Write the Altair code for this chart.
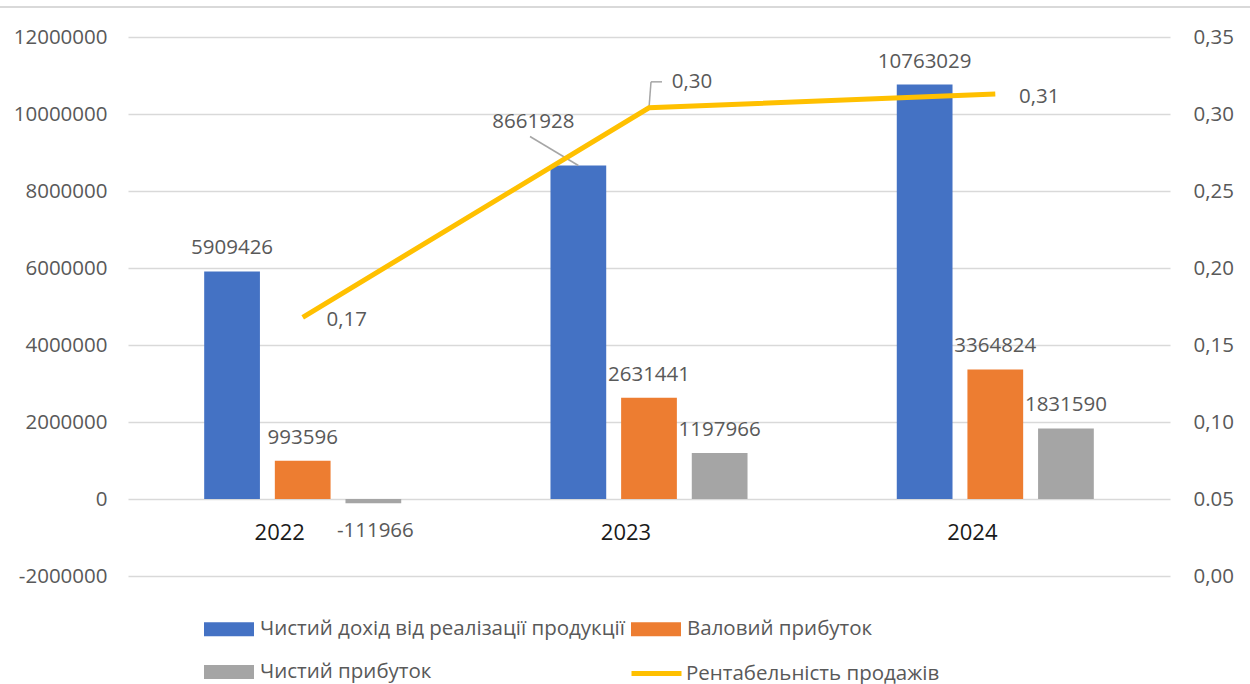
import altair as alt
import pandas as pd

# ---- data -------------------------------------------------------------
years = ["2022", "2023", "2024"]
series_names = [
    "Чистий дохід від реалізації продукції",
    "Валовий прибуток",
    "Чистий прибуток",
]
net_revenue = [5909426, 8661928, 10763029]
gross_profit = [993596, 2631441, 3364824]
net_profit = [-111966, 1197966, 1831590]

margin_name = "Рентабельність продажів"
sales_margin = [0.168, 0.304, 0.313]

left_ticks = [-2000000, 0, 2000000, 4000000, 6000000, 8000000, 10000000, 12000000]
right_ticks = [0.0, 0.05, 0.10, 0.15, 0.20, 0.25, 0.30, 0.35]

# ---- styling ------------------------------------------------------------
FONT = "Open Sans"
FS = 20.5
TEXT = "#595959"
GRID = "#D9D9D9"
LEADER = "#A6A6A6"
bar_colors = ["#4472C4", "#ED7D31", "#A5A5A5"]
line_color = "#FFC000"

rows = []
for i, yr in enumerate(years):
    for name, vals in zip(series_names, [net_revenue, gross_profit, net_profit]):
        rows.append({"year": yr, "series": name, "value": vals[i]})
bars_df = pd.DataFrame(rows)
ratio_df = pd.DataFrame({"year": years, "ratio": sales_margin, "metric": margin_name})

x_enc = alt.X(
    "year:N",
    sort=years,
    scale=alt.Scale(domain=years, paddingInner=0.431, paddingOuter=0.22),
    axis=None,
)
xoff = alt.XOffset(
    "series:N",
    sort=series_names,
    scale=alt.Scale(domain=series_names, paddingInner=0.211, paddingOuter=0),
)
y_scale = alt.Scale(domain=[-2000000, 12000000], nice=False, zero=False)
y_axis = alt.Axis(
    values=left_ticks,
    labelExpr="'' + datum.value",
    grid=True,
    gridColor=GRID,
    gridWidth=1.5,
    domain=False,
    ticks=False,
    labelPadding=21,
    labelFont=FONT,
    labelFontSize=FS,
    labelColor=TEXT,
    title=None,
)
# one shared y definition so every layer merges into the same left axis
y_enc = alt.Y("value:Q", scale=y_scale, axis=y_axis, stack=None)

base = alt.Chart(bars_df)

border = alt.Chart(pd.DataFrame({"k": [0]})).mark_rule(color=GRID, strokeWidth=2).encode(
    x=alt.value(-128), x2=alt.value(1122), y=alt.value(-30)
)

bars = base.mark_bar().encode(
    x=x_enc,
    xOffset=xoff,
    y=y_enc,
    y2=alt.datum(0),
    color=alt.Color(
        "series:N",
        sort=series_names,
        scale=alt.Scale(domain=series_names, range=bar_colors),
        legend=alt.Legend(
            title=None,
            orient="none",
            legendX=76,
            legendY=567,
            columns=2,
            direction="horizontal",
            symbolType="M-1,-0.28L1,-0.28L1,0.28L-1,0.28Z",
            symbolSize=2500,
            symbolStrokeWidth=0,
            labelFont=FONT,
            labelFontSize=FS,
            labelColor=TEXT,
            labelOffset=6,
            labelLimit=0,
            columnPadding=6,
            rowPadding=7,
        ),
    ),
)

labelled = base.transform_calculate(label="'' + datum.value")
moved = "datum.year == '2023' && datum.series == '" + series_names[0] + "'"
text_style = dict(font=FONT, fontSize=FS, color=TEXT, baseline="alphabetic")

pos_labels = labelled.transform_filter(
    "datum.value >= 0 && !(" + moved + ")"
).mark_text(dy=-17, **text_style).encode(x=x_enc, xOffset=xoff, y=y_enc, text="label:N")

neg_labels = labelled.transform_filter("datum.value < 0").mark_text(
    dx=2, dy=34, **text_style
).encode(x=x_enc, xOffset=xoff, y=y_enc, text="label:N")

moved_label = labelled.transform_filter(moved).mark_text(
    dx=-45, dy=-38, **text_style
).encode(x=x_enc, xOffset=xoff, y=y_enc, text="label:N")

moved_leader = base.transform_filter(moved).mark_rule(
    color=LEADER, strokeWidth=1.5, x2Offset=-119, y2Offset=-29
).encode(x=x_enc, xOffset=xoff, x2=alt.X2("year:N"), y=y_enc, y2=alt.Y2("value:Q"))

year_labels = (
    alt.Chart(pd.DataFrame({"year": years}))
    .transform_calculate(value="0")
    .mark_text(font=FONT, fontSize=22, color="#1A1A1A", baseline="alphabetic", dx=-23, dy=41)
    .encode(x=x_enc, y=y_enc, text="year:N")
)

bar_group = alt.layer(border, bars, pos_labels, neg_labels, moved_leader, moved_label, year_labels)

# ---- sales margin line on the right axis ---------------------------------
r_scale = alt.Scale(domain=[0, 0.35], nice=False, zero=False)
r_axis = alt.Axis(
    orient="right",
    values=right_ticks,
    labelExpr="abs(datum.value - 0.05) < 1e-9 ? '0.05' : replace(format(datum.value, '.2f'), '.', ',')",
    grid=False,
    domain=False,
    ticks=False,
    labelPadding=23,
    labelFont=FONT,
    labelFontSize=FS,
    labelColor=TEXT,
    title=None,
)
r_enc = alt.Y("ratio:Q", scale=r_scale, axis=r_axis)

rbase = alt.Chart(ratio_df).transform_calculate(
    label="replace(format(datum.ratio, '.2f'), '.', ',')"
)

line = rbase.mark_line(strokeWidth=5).encode(
    x=x_enc,
    y=r_enc,
    stroke=alt.Stroke(
        "metric:N",
        scale=alt.Scale(domain=[margin_name], range=[line_color]),
        legend=alt.Legend(
            title=None,
            orient="none",
            legendX=501,
            legendY=609,
            symbolType="stroke",
            symbolSize=2500,
            symbolStrokeWidth=5,
            labelFont=FONT,
            labelFontSize=FS,
            labelColor=TEXT,
            labelOffset=2,
            labelLimit=0,
        ),
    ),
)

r_labels = rbase.transform_filter("datum.year != '2023'").mark_text(
    dx=44, dy=9, **text_style
).encode(x=x_enc, y=r_enc, text="label:N")

r_label_top = rbase.transform_filter("datum.year == '2023'").mark_text(
    dx=43, dy=-20, **text_style
).encode(x=x_enc, y=r_enc, text="label:N")

elbow_up = rbase.transform_filter("datum.year == '2023'").mark_rule(
    color=LEADER, strokeWidth=1.5, x2Offset=2, y2Offset=-26
).encode(x=x_enc, x2=alt.X2("year:N"), y=r_enc, y2=alt.Y2("ratio:Q"))

elbow_across = rbase.transform_filter("datum.year == '2023'").mark_rule(
    color=LEADER, strokeWidth=1.5, xOffset=2, x2Offset=13, yOffset=-26, y2Offset=-26
).encode(x=x_enc, x2=alt.X2("year:N"), y=r_enc, y2=alt.Y2("ratio:Q"))

ratio_group = alt.layer(elbow_up, elbow_across, line, r_labels, r_label_top)

chart = (
    alt.layer(bar_group, ratio_group)
    .resolve_scale(y="independent")
    .properties(
        width=1042,
        height=539,
        autosize=alt.AutoSizeParams(type="none"),
        padding={"left": 128, "top": 37, "right": 80, "bottom": 108},
        background="white",
    )
    .configure_view(stroke=None)
)

chart.save("out.html", embed_options={"renderer": "svg", "actions": False})
